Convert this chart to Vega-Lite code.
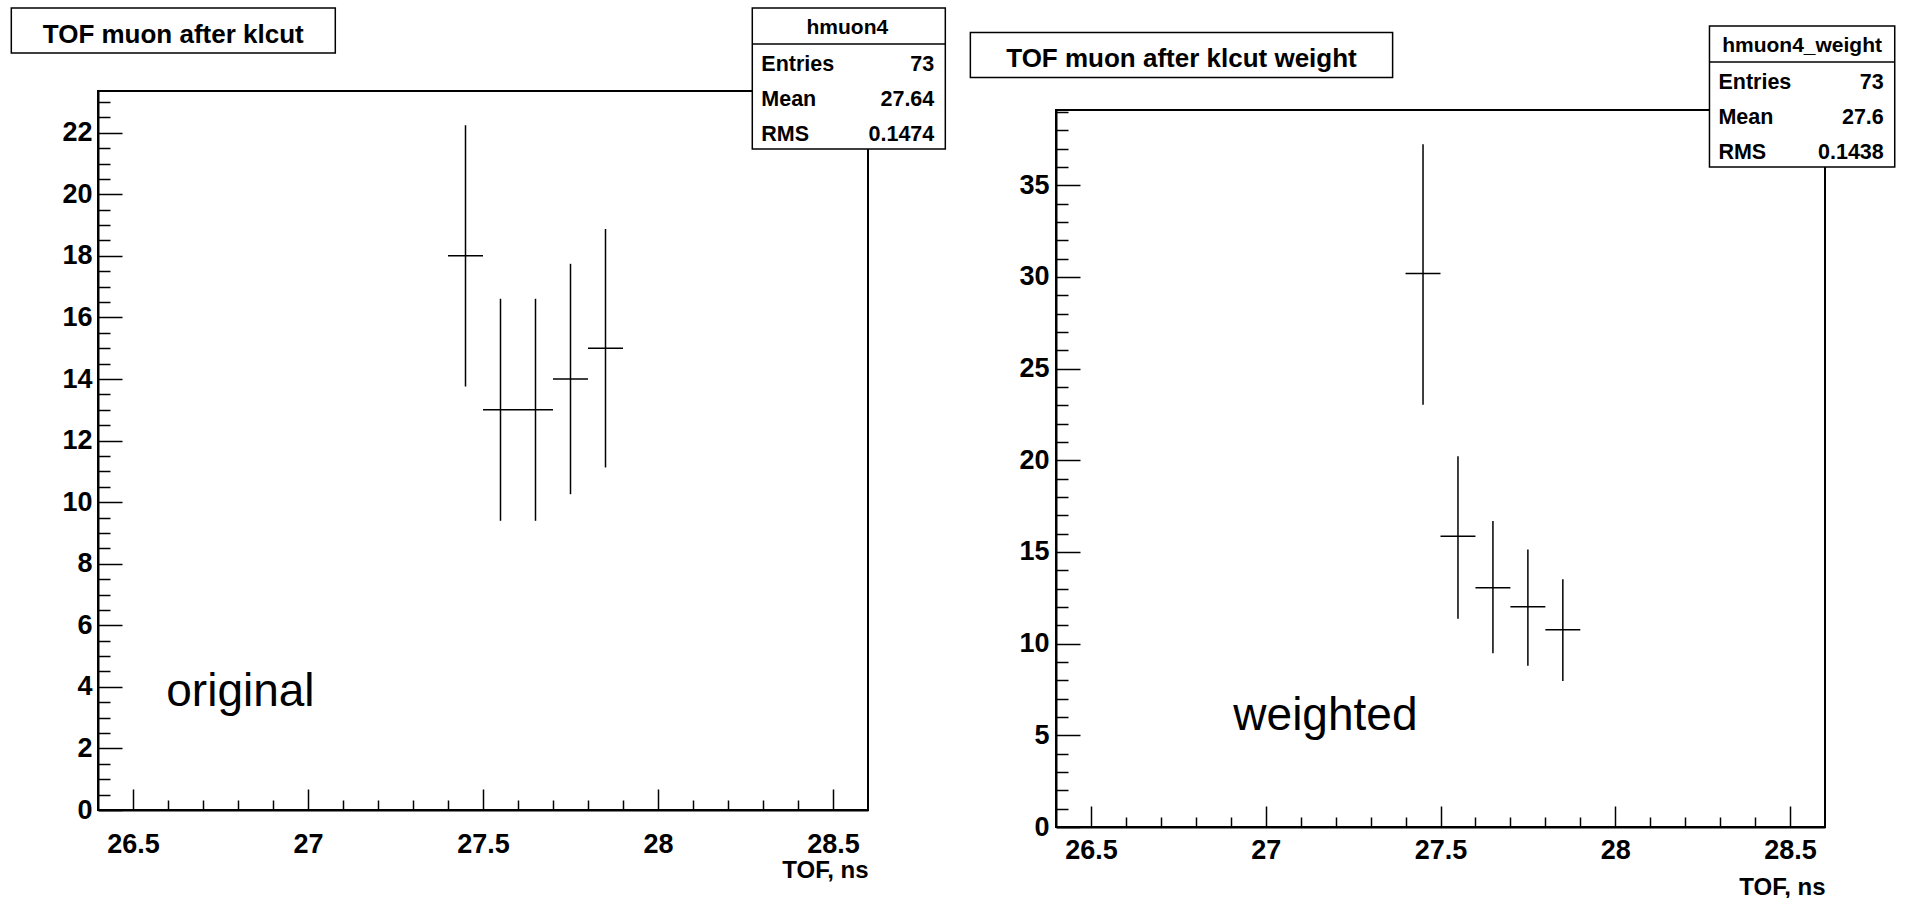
{
  "$schema": "https://vega.github.io/schema/vega-lite/v6.json",
  "background": "white",
  "padding": {"left": 9, "top": 5, "right": 0, "bottom": 0},
  "spacing": 20,
  "config": {
    "view": {"stroke": "black", "strokeWidth": 2},
    "axis": {"domainColor": "black", "domainWidth": 2, "tickColor": "black", "tickWidth": 1.5, "labelColor": "black", "labelFont": "Liberation Sans", "labelFontWeight": "bold", "labelFontSize": 27, "labelOverlap": false, "labelFlush": false, "labelBound": false, "grid": false, "titleFont": "Liberation Sans", "titleFontWeight": "bold", "titleFontSize": 24, "titleColor": "black"}
  },
  "datasets": {
    "lh": [
      {"tof": 27.45, "binLow": 27.4, "binHigh": 27.5, "count": 18, "errLow": 13.757, "errHigh": 22.243},
      {"tof": 27.55, "binLow": 27.5, "binHigh": 27.6, "count": 13, "errLow": 9.394, "errHigh": 16.606},
      {"tof": 27.65, "binLow": 27.6, "binHigh": 27.7, "count": 13, "errLow": 9.394, "errHigh": 16.606},
      {"tof": 27.75, "binLow": 27.7, "binHigh": 27.8, "count": 14, "errLow": 10.258, "errHigh": 17.742},
      {"tof": 27.85, "binLow": 27.8, "binHigh": 27.9, "count": 15, "errLow": 11.127, "errHigh": 18.873}
    ],
    "li": [{"title": "TOF muon after klcut", "name": "hmuon4", "entries": "73", "mean": "27.64", "rms": "0.1474", "note": "original"}],
    "rh": [
      {"tof": 27.45, "binLow": 27.4, "binHigh": 27.5, "count": 30.18, "errLow": 23.03, "errHigh": 37.23},
      {"tof": 27.55, "binLow": 27.5, "binHigh": 27.6, "count": 15.86, "errLow": 11.35, "errHigh": 20.22},
      {"tof": 27.65, "binLow": 27.6, "binHigh": 27.7, "count": 13.05, "errLow": 9.47, "errHigh": 16.69},
      {"tof": 27.75, "binLow": 27.7, "binHigh": 27.8, "count": 12.01, "errLow": 8.79, "errHigh": 15.13},
      {"tof": 27.85, "binLow": 27.8, "binHigh": 27.9, "count": 10.76, "errLow": 7.96, "errHigh": 13.51}
    ],
    "ri": [{"title": "TOF muon after klcut weight", "name": "hmuon4_weight", "entries": "73", "mean": "27.6", "rms": "0.1438", "note": "weighted"}]
  },
  "hconcat": [
    {
      "spacing": 0,
      "vconcat": [
        {
          "width": 770,
          "height": 1,
          "view": {"stroke": null, "fill": "white"},
          "data": {"values": []},
          "mark": "point"
        },
        {
          "width": 770,
          "height": 719,
          "layer": [
            {
              "data": {"name": "lh"},
              "mark": {"type": "rule", "color": "black", "strokeWidth": 1.5},
              "encoding": {
                "x": {"field": "tof", "type": "quantitative", "scale": {"domain": [26.4, 28.6], "nice": false, "zero": false},
                  "axis": {"values": [26.5,26.6,26.7,26.8,26.9,27,27.1,27.2,27.3,27.4,27.5,27.6,27.7,27.8,27.9,28,28.1,28.2,28.3,28.4,28.5], "tickCount": 200, "format": "~g", "labelOverlap": false,
                    "labelExpr": "abs(datum.value*2-round(datum.value*2))<0.001 ? datum.label : ''",
                    "tickSize": {"condition": {"test": "abs(datum.value*2-round(datum.value*2))<0.001", "value": -21}, "value": -10},
                    "labelPadding": 42, "title": "TOF, ns", "titleX": 770, "titleY": 67, "titleAlign": "right", "titleAnchor": "end", "titleBaseline": "alphabetic", "titleAngle": 0}},
                "y": {"field": "errLow", "type": "quantitative", "scale": {"domain": [0, 23.355], "nice": false, "zero": false},
                  "axis": {"values": [0,0.5,1,1.5,2,2.5,3,3.5,4,4.5,5,5.5,6,6.5,7,7.5,8,8.5,9,9.5,10,10.5,11,11.5,12,12.5,13,13.5,14,14.5,15,15.5,16,16.5,17,17.5,18,18.5,19,19.5,20,20.5,21,21.5,22,22.5,23], "tickCount": 200, "format": "~g", "labelOverlap": false,
                    "labelExpr": "abs(datum.value/2-round(datum.value/2))<0.001 ? datum.label : ''",
                    "tickSize": {"condition": {"test": "abs(datum.value/2-round(datum.value/2))<0.001", "value": -24}, "value": -12},
                    "labelPadding": 30, "title": null}},
                "y2": {"field": "errHigh"}
              }
            },
            {
              "data": {"name": "lh"},
              "mark": {"type": "rule", "color": "black", "strokeWidth": 1.5},
              "encoding": {
                "x": {"field": "binLow", "type": "quantitative", "scale": {"domain": [26.4, 28.6], "nice": false, "zero": false}},
                "x2": {"field": "binHigh"},
                "y": {"field": "count", "type": "quantitative", "scale": {"domain": [0, 23.355], "nice": false, "zero": false}}
              }
            },
            {
              "data": {"name": "li"},
              "mark": {"type": "rect", "fill": "white", "stroke": "black", "strokeWidth": 1.5},
              "encoding": {
                "x": {"datum": 26.1523, "scale": {"domain": [26.4, 28.6], "nice": false, "zero": false}},
                "x2": {"datum": 27.078},
                "y": {"datum": 26.051, "scale": {"domain": [0, 23.355], "nice": false, "zero": false}},
                "y2": {"datum": 24.59}
              }
            },
            {
              "data": {"name": "li"},
              "mark": {"type": "text", "font": "Liberation Sans", "fontWeight": "bold", "fontSize": 26, "align": "center", "baseline": "alphabetic", "color": "black"},
              "encoding": {
                "x": {"datum": 26.615, "scale": {"domain": [26.4, 28.6], "nice": false, "zero": false}},
                "y": {"datum": 24.914, "scale": {"domain": [0, 23.355], "nice": false, "zero": false}},
                "text": {"field": "title"}
              }
            },
            {
              "data": {"name": "li"},
              "mark": {"type": "rect", "fill": "white", "stroke": "black", "strokeWidth": 1.5},
              "encoding": {
                "x": {"datum": 28.2694, "scale": {"domain": [26.4, 28.6], "nice": false, "zero": false}},
                "x2": {"datum": 28.8209},
                "y": {"datum": 26.051, "scale": {"domain": [0, 23.355], "nice": false, "zero": false}},
                "y2": {"datum": 21.471}
              }
            },
            {
              "data": {"name": "li"},
              "mark": {"type": "rule", "color": "black", "strokeWidth": 1.5},
              "encoding": {
                "x": {"datum": 28.2694, "scale": {"domain": [26.4, 28.6], "nice": false, "zero": false}},
                "x2": {"datum": 28.8209},
                "y": {"datum": 24.882, "scale": {"domain": [0, 23.355], "nice": false, "zero": false}}
              }
            },
            {
              "data": {"name": "li"},
              "mark": {"type": "text", "font": "Liberation Sans", "fontWeight": "bold", "fontSize": 21, "align": "center", "baseline": "alphabetic", "color": "black"},
              "encoding": {
                "x": {"datum": 28.541, "scale": {"domain": [26.4, 28.6], "nice": false, "zero": false}},
                "y": {"datum": 25.207, "scale": {"domain": [0, 23.355], "nice": false, "zero": false}},
                "text": {"field": "name"}
              }
            },
            {
              "data": {"name": "li"},
              "mark": {"type": "text", "text": "Entries", "font": "Liberation Sans", "fontWeight": "bold", "fontSize": 21.5, "align": "left", "baseline": "alphabetic", "color": "black"},
              "encoding": {
                "x": {"datum": 28.2951, "scale": {"domain": [26.4, 28.6], "nice": false, "zero": false}},
                "y": {"datum": 24.005, "scale": {"domain": [0, 23.355], "nice": false, "zero": false}}
              }
            },
            {
              "data": {"name": "li"},
              "mark": {"type": "text", "text": "Mean", "font": "Liberation Sans", "fontWeight": "bold", "fontSize": 21.5, "align": "left", "baseline": "alphabetic", "color": "black"},
              "encoding": {
                "x": {"datum": 28.2951, "scale": {"domain": [26.4, 28.6], "nice": false, "zero": false}},
                "y": {"datum": 22.868, "scale": {"domain": [0, 23.355], "nice": false, "zero": false}}
              }
            },
            {
              "data": {"name": "li"},
              "mark": {"type": "text", "text": "RMS", "font": "Liberation Sans", "fontWeight": "bold", "fontSize": 21.5, "align": "left", "baseline": "alphabetic", "color": "black"},
              "encoding": {
                "x": {"datum": 28.2951, "scale": {"domain": [26.4, 28.6], "nice": false, "zero": false}},
                "y": {"datum": 21.731, "scale": {"domain": [0, 23.355], "nice": false, "zero": false}}
              }
            },
            {
              "data": {"name": "li"},
              "mark": {"type": "text", "font": "Liberation Sans", "fontWeight": "bold", "fontSize": 21.5, "align": "right", "baseline": "alphabetic", "color": "black"},
              "encoding": {
                "x": {"datum": 28.7894, "scale": {"domain": [26.4, 28.6], "nice": false, "zero": false}},
                "y": {"datum": 24.005, "scale": {"domain": [0, 23.355], "nice": false, "zero": false}},
                "text": {"field": "entries"}
              }
            },
            {
              "data": {"name": "li"},
              "mark": {"type": "text", "font": "Liberation Sans", "fontWeight": "bold", "fontSize": 21.5, "align": "right", "baseline": "alphabetic", "color": "black"},
              "encoding": {
                "x": {"datum": 28.7894, "scale": {"domain": [26.4, 28.6], "nice": false, "zero": false}},
                "y": {"datum": 22.868, "scale": {"domain": [0, 23.355], "nice": false, "zero": false}},
                "text": {"field": "mean"}
              }
            },
            {
              "data": {"name": "li"},
              "mark": {"type": "text", "font": "Liberation Sans", "fontWeight": "bold", "fontSize": 21.5, "align": "right", "baseline": "alphabetic", "color": "black"},
              "encoding": {
                "x": {"datum": 28.7894, "scale": {"domain": [26.4, 28.6], "nice": false, "zero": false}},
                "y": {"datum": 21.731, "scale": {"domain": [0, 23.355], "nice": false, "zero": false}},
                "text": {"field": "rms"}
              }
            },
            {
              "data": {"name": "li"},
              "mark": {"type": "text", "font": "Liberation Sans", "fontSize": 46, "align": "left", "baseline": "alphabetic", "color": "black"},
              "encoding": {
                "x": {"datum": 26.5951, "scale": {"domain": [26.4, 28.6], "nice": false, "zero": false}},
                "y": {"datum": 3.378, "scale": {"domain": [0, 23.355], "nice": false, "zero": false}},
                "text": {"field": "note"}
              }
            }
          ]
        }
      ]
    },
    {
      "spacing": 0,
      "vconcat": [
        {
          "width": 769,
          "height": 19,
          "view": {"stroke": null, "fill": "white"},
          "data": {"values": []},
          "mark": "point"
        },
        {
          "width": 769,
          "height": 717,
          "layer": [
            {
              "data": {"name": "rh"},
              "mark": {"type": "rule", "color": "black", "strokeWidth": 1.5},
              "encoding": {
                "x": {"field": "tof", "type": "quantitative", "scale": {"domain": [26.4, 28.6], "nice": false, "zero": false},
                  "axis": {"values": [26.5,26.6,26.7,26.8,26.9,27,27.1,27.2,27.3,27.4,27.5,27.6,27.7,27.8,27.9,28,28.1,28.2,28.3,28.4,28.5], "tickCount": 200, "format": "~g", "labelOverlap": false,
                    "labelExpr": "abs(datum.value*2-round(datum.value*2))<0.001 ? datum.label : ''",
                    "tickSize": {"condition": {"test": "abs(datum.value*2-round(datum.value*2))<0.001", "value": -21}, "value": -10},
                    "labelPadding": 31, "title": "TOF, ns", "titleX": 769, "titleY": 67, "titleAlign": "right", "titleAnchor": "end", "titleBaseline": "alphabetic", "titleAngle": 0}},
                "y": {"field": "errLow", "type": "quantitative", "scale": {"domain": [0, 39.1], "nice": false, "zero": false},
                  "axis": {"values": [0,1,2,3,4,5,6,7,8,9,10,11,12,13,14,15,16,17,18,19,20,21,22,23,24,25,26,27,28,29,30,31,32,33,34,35,36,37,38,39], "tickCount": 200, "format": "~g", "labelOverlap": false,
                    "labelExpr": "abs(datum.value/5-round(datum.value/5))<0.001 ? datum.label : ''",
                    "tickSize": {"condition": {"test": "abs(datum.value/5-round(datum.value/5))<0.001", "value": -24}, "value": -12},
                    "labelPadding": 31, "title": null}},
                "y2": {"field": "errHigh"}
              }
            },
            {
              "data": {"name": "rh"},
              "mark": {"type": "rule", "color": "black", "strokeWidth": 1.5},
              "encoding": {
                "x": {"field": "binLow", "type": "quantitative", "scale": {"domain": [26.4, 28.6], "nice": false, "zero": false}},
                "x2": {"field": "binHigh"},
                "y": {"field": "count", "type": "quantitative", "scale": {"domain": [0, 39.1], "nice": false, "zero": false}}
              }
            },
            {
              "data": {"name": "ri"},
              "mark": {"type": "rect", "fill": "white", "stroke": "black", "strokeWidth": 1.5},
              "encoding": {
                "x": {"datum": 26.155, "scale": {"domain": [26.4, 28.6], "nice": false, "zero": false}},
                "x2": {"datum": 27.363},
                "y": {"datum": 43.326, "scale": {"domain": [0, 39.1], "nice": false, "zero": false}},
                "y2": {"datum": 40.867}
              }
            },
            {
              "data": {"name": "ri"},
              "mark": {"type": "text", "font": "Liberation Sans", "fontWeight": "bold", "fontSize": 26, "align": "center", "baseline": "alphabetic", "color": "black"},
              "encoding": {
                "x": {"datum": 26.759, "scale": {"domain": [26.4, 28.6], "nice": false, "zero": false}},
                "y": {"datum": 41.418, "scale": {"domain": [0, 39.1], "nice": false, "zero": false}},
                "text": {"field": "title"}
              }
            },
            {
              "data": {"name": "ri"},
              "mark": {"type": "rect", "fill": "white", "stroke": "black", "strokeWidth": 1.5},
              "encoding": {
                "x": {"datum": 28.2695, "scale": {"domain": [26.4, 28.6], "nice": false, "zero": false}},
                "x2": {"datum": 28.7995},
                "y": {"datum": 43.681, "scale": {"domain": [0, 39.1], "nice": false, "zero": false}},
                "y2": {"datum": 35.992}
              }
            },
            {
              "data": {"name": "ri"},
              "mark": {"type": "rule", "color": "black", "strokeWidth": 1.5},
              "encoding": {
                "x": {"datum": 28.2695, "scale": {"domain": [26.4, 28.6], "nice": false, "zero": false}},
                "x2": {"datum": 28.7995},
                "y": {"datum": 41.718, "scale": {"domain": [0, 39.1], "nice": false, "zero": false}}
              }
            },
            {
              "data": {"name": "ri"},
              "mark": {"type": "text", "font": "Liberation Sans", "fontWeight": "bold", "fontSize": 21, "align": "center", "baseline": "alphabetic", "color": "black"},
              "encoding": {
                "x": {"datum": 28.5345, "scale": {"domain": [26.4, 28.6], "nice": false, "zero": false}},
                "y": {"datum": 42.263, "scale": {"domain": [0, 39.1], "nice": false, "zero": false}},
                "text": {"field": "name"}
              }
            },
            {
              "data": {"name": "ri"},
              "mark": {"type": "text", "text": "Entries", "font": "Liberation Sans", "fontWeight": "bold", "fontSize": 21.5, "align": "left", "baseline": "alphabetic", "color": "black"},
              "encoding": {
                "x": {"datum": 28.2951, "scale": {"domain": [26.4, 28.6], "nice": false, "zero": false}},
                "y": {"datum": 40.245, "scale": {"domain": [0, 39.1], "nice": false, "zero": false}}
              }
            },
            {
              "data": {"name": "ri"},
              "mark": {"type": "text", "text": "Mean", "font": "Liberation Sans", "fontWeight": "bold", "fontSize": 21.5, "align": "left", "baseline": "alphabetic", "color": "black"},
              "encoding": {
                "x": {"datum": 28.2951, "scale": {"domain": [26.4, 28.6], "nice": false, "zero": false}},
                "y": {"datum": 38.337, "scale": {"domain": [0, 39.1], "nice": false, "zero": false}}
              }
            },
            {
              "data": {"name": "ri"},
              "mark": {"type": "text", "text": "RMS", "font": "Liberation Sans", "fontWeight": "bold", "fontSize": 21.5, "align": "left", "baseline": "alphabetic", "color": "black"},
              "encoding": {
                "x": {"datum": 28.2951, "scale": {"domain": [26.4, 28.6], "nice": false, "zero": false}},
                "y": {"datum": 36.428, "scale": {"domain": [0, 39.1], "nice": false, "zero": false}}
              }
            },
            {
              "data": {"name": "ri"},
              "mark": {"type": "text", "font": "Liberation Sans", "fontWeight": "bold", "fontSize": 21.5, "align": "right", "baseline": "alphabetic", "color": "black"},
              "encoding": {
                "x": {"datum": 28.7682, "scale": {"domain": [26.4, 28.6], "nice": false, "zero": false}},
                "y": {"datum": 40.245, "scale": {"domain": [0, 39.1], "nice": false, "zero": false}},
                "text": {"field": "entries"}
              }
            },
            {
              "data": {"name": "ri"},
              "mark": {"type": "text", "font": "Liberation Sans", "fontWeight": "bold", "fontSize": 21.5, "align": "right", "baseline": "alphabetic", "color": "black"},
              "encoding": {
                "x": {"datum": 28.7682, "scale": {"domain": [26.4, 28.6], "nice": false, "zero": false}},
                "y": {"datum": 38.337, "scale": {"domain": [0, 39.1], "nice": false, "zero": false}},
                "text": {"field": "mean"}
              }
            },
            {
              "data": {"name": "ri"},
              "mark": {"type": "text", "font": "Liberation Sans", "fontWeight": "bold", "fontSize": 21.5, "align": "right", "baseline": "alphabetic", "color": "black"},
              "encoding": {
                "x": {"datum": 28.7682, "scale": {"domain": [26.4, 28.6], "nice": false, "zero": false}},
                "y": {"datum": 36.428, "scale": {"domain": [0, 39.1], "nice": false, "zero": false}},
                "text": {"field": "rms"}
              }
            },
            {
              "data": {"name": "ri"},
              "mark": {"type": "text", "font": "Liberation Sans", "fontSize": 46, "align": "left", "baseline": "alphabetic", "color": "black"},
              "encoding": {
                "x": {"datum": 26.9073, "scale": {"domain": [26.4, 28.6], "nice": false, "zero": false}},
                "y": {"datum": 5.29, "scale": {"domain": [0, 39.1], "nice": false, "zero": false}},
                "text": {"field": "note"}
              }
            }
          ]
        }
      ]
    }
  ]
}
